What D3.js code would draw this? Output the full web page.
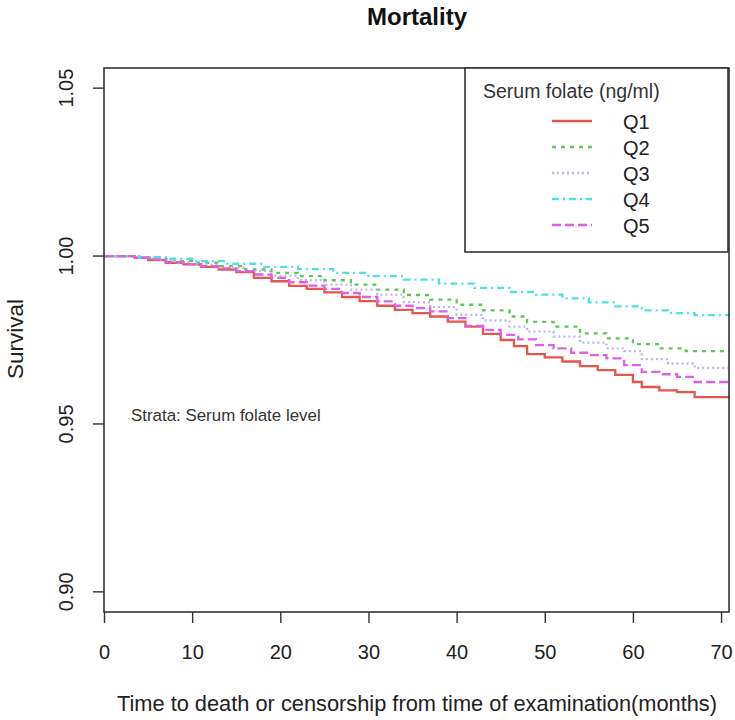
<!DOCTYPE html>
<html><head><meta charset="utf-8">
<script src="https://cdn.jsdelivr.net/npm/d3@7"></script>
<style>body{margin:0;background:#fff}svg{font-family:"Liberation Sans",Arial,sans-serif}</style>
</head><body><svg id="c" width="735" height="720"></svg>
<script>
const seriesNames = ["Q1","Q2","Q3","Q4","Q5"];
const followUpEnd = 71;
const q1Times = [0,3.5,5,7,9,11,13,15,17,19,21,23,25,27,29,31,33,35,37,39,41,43,45,46.5,48,50,52,54,56,58,60,61,63,65,67];
const q1Surv  = [1,0.9995,0.9988,0.998,0.9975,0.9968,0.996,0.9952,0.9935,0.9925,0.9911,0.9902,0.9892,0.9878,0.9866,0.9852,0.984,0.983,0.982,0.9805,0.979,0.9768,0.975,0.9732,0.9708,0.9698,0.9686,0.9672,0.966,0.9646,0.9625,0.961,0.96,0.9595,0.958];
const q2Times = [0,4,6,8,10,13,16,19,22,25,28,31,34,37,40,43,46,48,51,54,57,60,63,66];
const q2Surv  = [1,0.9995,0.999,0.9985,0.998,0.997,0.996,0.995,0.994,0.9928,0.9915,0.99,0.9884,0.987,0.9855,0.9838,0.982,0.9804,0.979,0.977,0.9755,0.9738,0.9725,0.9717];
const q3Times = [0,4,6,8,10,13,16,19,22,25,28,31,34,37,40,43,46,48,51,54,57,59,61,64,67];
const q3Surv  = [1,0.9995,0.9988,0.998,0.9975,0.9965,0.9955,0.9942,0.9928,0.9915,0.99,0.9885,0.9863,0.9848,0.9825,0.9808,0.979,0.9775,0.976,0.9742,0.9725,0.9717,0.9693,0.968,0.9667];
const q4Times = [0,4,7,10,14,18,22,26,30,34,38,42,46,49,52,55,58,61,64,67];
const q4Surv  = [1,0.9997,0.9992,0.9985,0.9977,0.9968,0.9961,0.995,0.994,0.993,0.9918,0.9905,0.9893,0.9885,0.9874,0.9862,0.985,0.9838,0.983,0.9824];
const q5Times = [0,3.5,5,7,9,11,13,15,17,19,21,23,25,27,29,31,33,35,37,39,41,43,45,47,49,51,53,55,57,59,61,63,65,67];
const q5Surv  = [1,0.9995,0.999,0.9982,0.9976,0.997,0.9963,0.9955,0.9945,0.9935,0.9922,0.9912,0.9902,0.989,0.9878,0.9865,0.9852,0.9845,0.9835,0.9815,0.9792,0.978,0.9765,0.9752,0.9735,0.9725,0.9712,0.9705,0.9695,0.9675,0.9655,0.9648,0.964,0.9625];
const xTicks = [0,10,20,30,40,50,60,70];
const yTicks = [0.90,0.95,1.00,1.05];
const colors = ["#e6564d","#5ec65a","#b9b9e6","#4fe3df","#e060e3"];
const dashes = [null,"4,5","2,3","7,4,2,4","9,4"];

const allTimes=[q1Times,q2Times,q3Times,q4Times,q5Times];
const allSurv=[q1Surv,q2Surv,q3Surv,q4Surv,q5Surv];

const svg=d3.select("#c");
const L=104,R=729,T=68,B=612;
const x=d3.scaleLinear().domain([0,70.9]).range([L,R]);
const y=d3.scaleLinear().domain([0.894,1.056]).range([B,T]);
const ink="#333";

// curves
const line=d3.line().x(d=>x(d[0])).y(d=>y(d[1])).curve(d3.curveStepAfter);
seriesNames.forEach((n,i)=>{
  const pts=allTimes[i].map((t,j)=>[t,allSurv[i][j]]);
  pts.push([followUpEnd,allSurv[i][allSurv[i].length-1]]);
  svg.append("path").datum(pts).attr("d",line).attr("fill","none")
    .attr("stroke",colors[i]).attr("stroke-width",2.3)
    .attr("stroke-dasharray",dashes[i]);
});
svg.append("rect").attr("x",R+1).attr("y",0).attr("width",20).attr("height",720).attr("fill","#fff");

// frame
svg.append("rect").attr("x",L).attr("y",T).attr("width",R-L).attr("height",B-T)
  .attr("fill","none").attr("stroke",ink).attr("stroke-width",1.6);

// axes
const xa=svg.append("g").attr("transform",`translate(0,${B})`)
  .call(d3.axisBottom(x).tickValues(xTicks).tickSize(11).tickPadding(22).tickFormat(d3.format("d")));
const ya=svg.append("g").attr("transform",`translate(${L},0)`)
  .call(d3.axisLeft(y).tickValues(yTicks).tickSize(11).tickFormat(d3.format(".2f")));
[xa,ya].forEach(a=>{a.select(".domain").remove();
  a.selectAll("line").attr("stroke",ink).attr("stroke-width",1.4);
  a.selectAll("text").attr("fill","#222").style("font-size","20px").style("font-family","Liberation Sans, Arial, sans-serif");});
ya.selectAll(".tick").attr("transform","translate(0,0)");
ya.selectAll(".tick line").attr("y1",d=>y(d)).attr("y2",d=>y(d)).attr("x2",-11);
ya.selectAll("text").attr("text-anchor","middle").attr("dy",0).attr("x",0).attr("y",0)
  .attr("transform",d=>`translate(-31,${y(d)}) rotate(-90)`);

// titles
svg.append("text").attr("x",417).attr("y",25).attr("text-anchor","middle")
  .style("font-size","24px").style("font-weight","bold").attr("fill","#111").text("Mortality");
svg.append("text").attr("x",417).attr("y",711).attr("text-anchor","middle")
  .style("font-size","21.8px").attr("fill","#222").text("Time to death or censorship from time of examination(months)");
svg.append("text").attr("transform","translate(23,339) rotate(-90)").attr("text-anchor","middle")
  .style("font-size","22.5px").attr("fill","#222").text("Survival");
svg.append("text").attr("x",131).attr("y",421)
  .style("font-size","16.9px").attr("fill","#333").text("Strata: Serum folate level");

// legend
const lg=svg.append("g");
lg.append("rect").attr("x",465).attr("y",68).attr("width",R-1-465).attr("height",252-68)
  .attr("fill","#fff").attr("stroke",ink).attr("stroke-width",1.6);
lg.append("text").attr("x",483).attr("y",98).style("font-size","19.5px").attr("fill","#333").text("Serum folate (ng/ml)");
seriesNames.forEach((n,i)=>{
  const yy=121+i*26;
  lg.append("line").attr("x1",552).attr("x2",592).attr("y1",yy).attr("y2",yy)
    .attr("stroke",colors[i]).attr("stroke-width",2.3).attr("stroke-dasharray",dashes[i]);
  lg.append("text").attr("x",623).attr("y",yy+7.5).style("font-size","20px").attr("fill","#222").text(n);
});
</script></body></html>
